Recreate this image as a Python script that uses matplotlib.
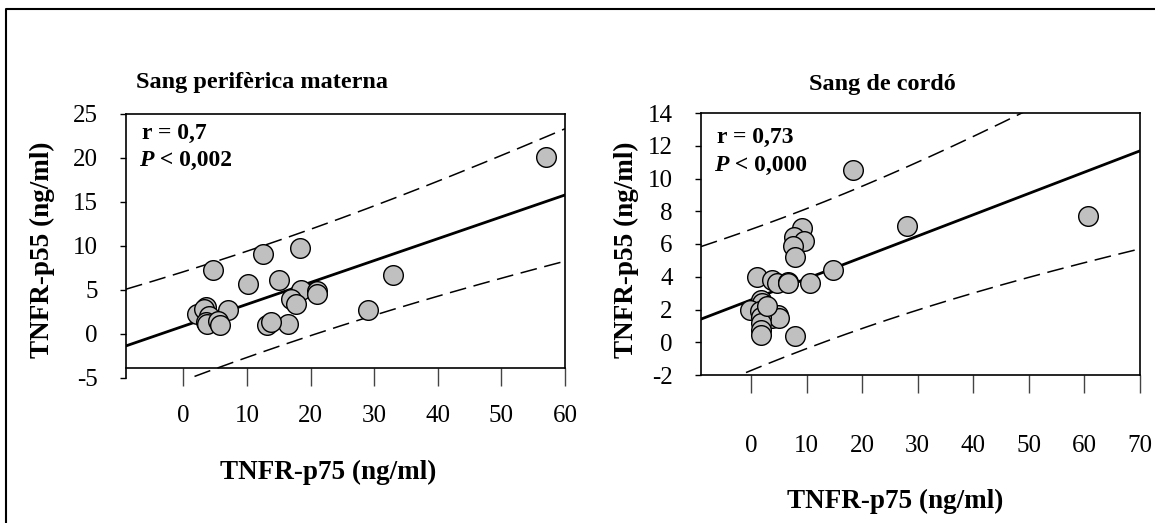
import numpy as np
import matplotlib.pyplot as plt
from matplotlib.lines import Line2D

plt.rcParams['font.family'] = ['Liberation Serif', 'DejaVu Serif']
plt.rcParams['axes.unicode_minus'] = False

# Sang perifèrica materna (TNFR-p75 vs TNFR-p55, ng/ml)
mat_p75 = [57.0, 4.7, 12.6, 18.4, 10.2, 15.0, 32.9, 18.5, 21.0, 21.0, 16.9, 17.7,
           29.1, 7.0, 16.5, 13.1, 13.8, 2.1, 3.6, 3.2, 4.0, 3.5, 3.7, 5.4, 5.8]
mat_p55 = [20.1, 7.2, 9.1, 9.8, 5.7, 6.1, 6.7, 5.0, 4.9, 4.5, 3.9, 3.4,
           2.7, 2.7, 1.1, 1.0, 1.3, 2.3, 3.1, 2.8, 2.0, 1.3, 1.1, 1.4, 1.0]

# Sang de cordó
cord_p75 = [18.4, 60.6, 28.0, 9.1, 7.7, 9.6, 7.6, 7.9, 14.8, 1.0, 3.7, 4.7, 6.7,
            6.6, 10.6, 1.8, 2.0, -0.2, 1.6, 4.9, 3.7, 5.1, 1.8, 1.8, 1.8, 1.8, 7.9, 2.8]
cord_p55 = [10.5, 7.7, 7.1, 7.0, 6.4, 6.2, 5.9, 5.2, 4.4, 4.0, 3.8, 3.6, 3.7,
            3.6, 3.6, 2.6, 2.4, 2.0, 1.9, 1.65, 1.5, 1.5, 1.55, 1.15, 0.75, 0.45, 0.4, 2.2]

T_CRIT = 2.06  # ~t(0.975, n-2)
FS = 17


def fit_band(x, y, xs):
    x = np.asarray(x); y = np.asarray(y)
    n = len(x)
    b, a = np.polyfit(x, y, 1)
    s = np.sqrt(np.sum((y - (a + b * x)) ** 2) / (n - 2))
    sxx = np.sum((x - x.mean()) ** 2)
    yhat = a + b * xs
    h = T_CRIT * s * np.sqrt(1 + 1 / n + (xs - x.mean()) ** 2 / sxx)
    return yhat, yhat - h, yhat + h


def panel(ax, x, y, xlim, ylim, xticks, yticks, box_bottom, xpad, rtxt, ptxt, ry, py):
    xs = np.linspace(xlim[0], xlim[1], 300)
    yhat, lo, hi = fit_band(x, y, xs)
    ax.plot(xs, yhat, color='black', lw=2, zorder=2)
    ax.plot(xs, lo, color='black', lw=1.1, dashes=(11, 5), zorder=2)
    ax.plot(xs, hi, color='black', lw=1.1, dashes=(11, 5), zorder=2)
    ax.scatter(x, y, s=200, facecolor='#c0c0c0', edgecolor='black', lw=1, zorder=3)
    ax.set_xlim(xlim)
    ax.set_ylim(ylim)
    ax.set_xticks(xticks)
    ax.set_yticks(yticks)
    ax.spines['bottom'].set_position(('data', box_bottom))
    ax.spines['right'].set_bounds(box_bottom, ylim[1])
    for sp in ax.spines.values():
        sp.set_linewidth(1.2)
    ax.tick_params(axis='x', direction='out', length=13, width=1, color='#444444',
                   pad=xpad, labelsize=18)
    ax.tick_params(axis='y', direction='out', length=4.5, width=1, pad=16, labelsize=18)
    ax.text(0.036, ry, rtxt, transform=ax.transAxes, fontsize=FS, fontweight='bold',
            va='top', ha='left')
    p = ax.text(0.03, py, 'P', transform=ax.transAxes, fontsize=FS, fontweight='bold',
                style='italic', va='top', ha='left')
    ax.annotate(' ' + ptxt, xy=(1, 0), xycoords=p, fontsize=FS, fontweight='bold',
                va='bottom', ha='left')


W, H = 1155, 523
fig = plt.figure(figsize=(W / 100, H / 100), dpi=100)

ax1 = fig.add_axes([126 / W, 1 - 377.7 / H, 439 / W, 263.7 / H])
panel(ax1, mat_p75, mat_p55, (-9, 60), (-5, 25), range(0, 61, 10), range(-5, 26, 5),
      -3.86, 14, 'r = 0,7', '< 0,002', 0.966, 0.865)

ax2 = fig.add_axes([701 / W, 1 - 375 / H, 439 / W, 262 / H])
panel(ax2, cord_p75, cord_p55, (-9, 70), (-2, 14), range(0, 71, 10), range(-2, 15, 2),
      -2, 30, 'r = 0,73', '< 0,000', 0.947, 0.84)

fig.text(262 / W, 1 - 88 / H, 'Sang perifèrica materna', fontsize=17.5, fontweight='bold',
         ha='center', va='baseline')
fig.text(882 / W, 1 - 90 / H, 'Sang de cordó', fontsize=17.5, fontweight='bold',
         ha='center', va='baseline')
fig.text(328 / W, 1 - 472 / H, 'TNFR-p75 (ng/ml)', fontsize=19.5, fontweight='bold',
         ha='center', va='center')
fig.text(895 / W, 1 - 501 / H, 'TNFR-p75 (ng/ml)', fontsize=19.5, fontweight='bold',
         ha='center', va='center')
fig.text(42 / W, 1 - 250 / H, 'TNFR-p55 (ng/ml)', fontsize=19.5, fontweight='bold',
         ha='center', va='center', rotation=90)
fig.text(626 / W, 1 - 250 / H, 'TNFR-p55 (ng/ml)', fontsize=19.5, fontweight='bold',
         ha='center', va='center', rotation=90)

# frame around the figure (only left and top edges are visible in the source)
fig.add_artist(Line2D([6 / W, 6 / W, 1], [0, 1 - 9 / H, 1 - 9 / H],
                      transform=fig.transFigure, color='black', lw=1.5))

fig.savefig('out.png', dpi=100)
